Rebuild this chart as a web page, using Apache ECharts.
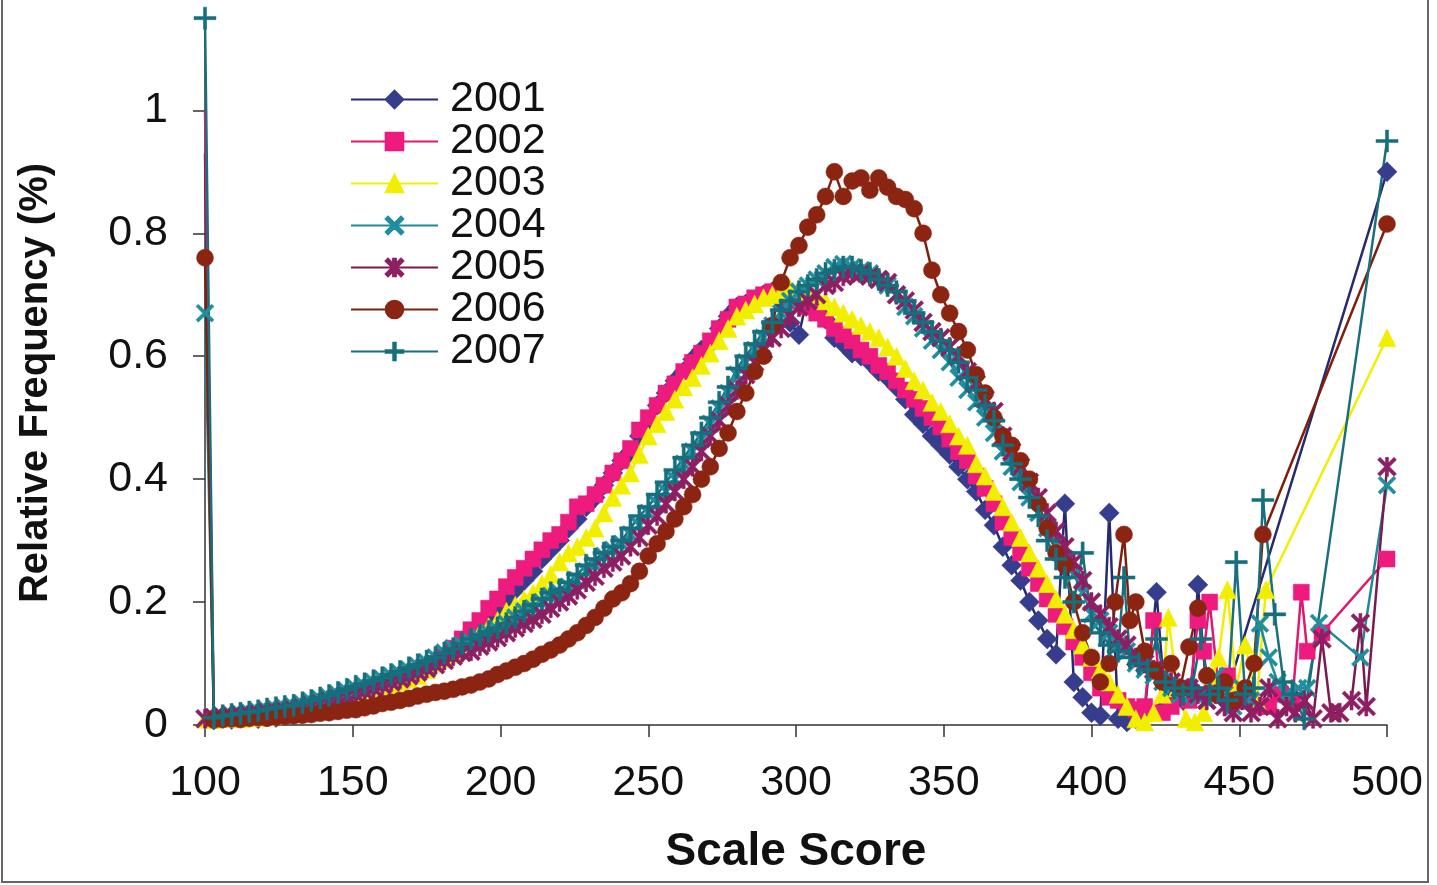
<!DOCTYPE html>
<html><head><meta charset="utf-8">
<script src="https://cdn.jsdelivr.net/npm/echarts@6/dist/echarts.min.js"></script>
<style>html,body{margin:0;padding:0;background:#fff}#c{width:1437px;height:885px}</style>
</head><body><div id="c"></div>
<script>
// Scale-score grid for the main body of every curve
const scores = [100,103,106,109,112,115,118,121,124,127,
130,133,136,139,142,145,148,151,154,157,
160,163,166,169,172,175,178,181,184,187,
190,193,196,199,202,205,208,211,214,217,
220,223,226,229,232,235,238,241,244,247,
250,253,256,259,262,265,268,271,274,277,
280,283,286,289,292,295,298,301,304,307,
310,313,316,319,322,325,328,331,334,337,
340,343,346,349,352,355,358,361,364,367,
370,373,376,379,382,385,388,391,394,397,
400];

const years = ['2001','2002','2003','2004','2005','2006','2007'];
const yTickValues = [0, 0.2, 0.4, 0.6, 0.8, 1];

const v2001 = [0.93,.008,.01,.009,.011,.012,.01,.013,.012,.016,
.02,.019,.024,.027,.03,.034,.038,.046,.05,.055,
.06,.066,.072,.076,.085,.092,.1,.11,.12,.135,
.15,.16,.175,.19,.205,.22,.235,.25,.27,.285,
.30,.32,.335,.355,.37,.39,.41,.43,.445,.47,
.49,.52,.54,.56,.575,.595,.61,.62,.645,.665,
.68,.685,.69,.70,.705,.69,.655,.635,.70,.68,
.66,.63,.62,.605,.60,.59,.575,.565,.55,.53,
.505,.49,.47,.455,.44,.42,.40,.38,.35,.325,
.29,.26,.235,.20,.17,.14,.115,.36,.07,.045,
.02];
const t2001 = [[403,.015],[406,.345],[409,.01],[412,.005],[415,.01],[418,.02],[422,.216],[425,.03],[428,.05],[431,.04],[434,.06],[436,.228],[439,.05],[442,.06],[445,.04],[500,.90]];

const v2002 = [1.0,.01,.011,.01,.012,.013,.012,.014,.015,.017,
.02,.022,.025,.028,.031,.035,.04,.047,.05,.056,
.06,.066,.072,.078,.086,.094,.10,.112,.125,.14,
.155,.17,.19,.205,.225,.24,.255,.27,.285,.30,
.31,.33,.355,.36,.375,.39,.41,.43,.45,.48,
.50,.52,.54,.555,.575,.59,.605,.625,.645,.66,
.68,.685,.695,.70,.705,.70,.695,.69,.68,.67,
.66,.645,.635,.625,.61,.60,.585,.575,.56,.545,
.53,.515,.50,.485,.465,.445,.43,.405,.385,.36,
.33,.305,.28,.255,.23,.205,.18,.16,.135,.11,
.085];
const t2002 = [[403,.06],[406,.045],[409,.04],[412,.03],[415,.025],[418,.03],[421,.17],[424,.02],[427,.03],[430,.06],[433,.04],[436,.17],[438,.12],[440,.20],[443,.06],[446,.08],[449,.05],[452,.04],[456,.03],[460,.03],[464,.05],[468,.04],[471,.216],[473,.12],[478,.15],[500,.27]];

const v2003 = [.01,.009,.011,.012,.01,.013,.012,.014,.016,.017,
.018,.02,.023,.027,.03,.035,.04,.045,.05,.054,
.06,.065,.07,.075,.08,.09,.10,.108,.115,.125,
.135,.15,.16,.17,.185,.195,.205,.215,.23,.245,
.265,.28,.29,.305,.32,.345,.37,.39,.41,.44,
.47,.49,.51,.53,.55,.565,.585,.605,.625,.645,
.665,.675,.685,.695,.70,.705,.71,.71,.705,.70,
.69,.68,.67,.66,.65,.64,.63,.615,.60,.58,
.56,.545,.525,.51,.49,.47,.455,.425,.405,.38,
.355,.33,.305,.28,.255,.23,.205,.18,.155,.13,
.11];
const t2003 = [[403,.09],[406,.07],[409,.05],[412,.03],[415,.01],[418,.005],[421,.02],[424,.05],[426,.175],[429,.06],[432,.01],[435,.005],[438,.02],[441,.08],[443,.11],[446,.22],[449,.06],[452,.13],[456,.04],[459,.22],[500,.63]];

const v2004 = [.67,.012,.014,.016,.018,.02,.022,.024,.026,.028,
.03,.034,.038,.042,.045,.05,.055,.06,.064,.07,
.075,.08,.084,.09,.096,.102,.11,.118,.125,.13,
.135,.142,.15,.155,.165,.175,.185,.19,.2,.21,
.215,.225,.235,.25,.26,.275,.285,.295,.31,.325,
.345,.36,.38,.40,.425,.445,.465,.49,.515,.54,
.57,.59,.61,.63,.65,.67,.69,.705,.715,.725,
.735,.745,.75,.745,.74,.735,.725,.715,.70,.68,
.665,.645,.625,.61,.59,.565,.545,.525,.50,.475,
.445,.42,.395,.37,.345,.32,.295,.27,.245,.215,
.18];
const t2004 = [[403,.17],[406,.15],[409,.13],[412,.12],[415,.10],[418,.09],[421,.08],[424,.07],[427,.06],[430,.05],[433,.06],[436,.045],[439,.04],[442,.08],[445,.05],[448,.03],[451,.06],[454,.04],[457,.165],[460,.11],[463,.07],[466,.05],[470,.06],[473,.06],[477,.166],[491,.11],[500,.39]];

const v2005 = [.01,.012,.013,.014,.015,.016,.018,.02,.021,.023,
.025,.028,.031,.035,.039,.043,.047,.05,.055,.06,
.065,.07,.075,.08,.086,.092,.098,.105,.112,.118,
.12,.128,.135,.142,.15,.158,.165,.172,.18,.19,
.20,.21,.22,.232,.242,.255,.265,.275,.29,.305,
.325,.34,.36,.38,.40,.42,.445,.47,.495,.52,
.545,.57,.59,.61,.63,.645,.665,.68,.69,.70,
.715,.72,.73,.735,.735,.73,.725,.72,.70,.69,
.675,.655,.64,.63,.615,.60,.575,.555,.53,.51,
.47,.445,.42,.395,.37,.345,.315,.29,.265,.235,
.20];
const t2005 = [[403,.18],[406,.16],[409,.14],[412,.13],[415,.11],[418,.10],[421,.09],[424,.08],[427,.07],[430,.06],[433,.06],[436,.05],[439,.04],[442,.05],[445,.03],[448,.02],[451,.04],[454,.02],[457,.03],[460,.06],[463,.01],[466,.03],[469,.02],[472,.04],[475,.01],[478,.14],[481,.02],[484,.02],[488,.04],[491,.166],[493,.03],[500,.42]];

const v2006 = [.76,.008,.009,.01,.009,.011,.012,.011,.013,.014,
.015,.016,.017,.019,.02,.022,.024,.025,.028,.031,
.035,.037,.04,.043,.047,.05,.053,.055,.058,.062,
.065,.07,.075,.082,.088,.094,.10,.107,.115,.122,
.13,.14,.15,.162,.175,.19,.205,.215,.23,.25,
.275,.295,.315,.335,.355,.375,.40,.42,.45,.475,
.51,.54,.575,.60,.65,.72,.76,.78,.81,.83,
.86,.90,.86,.885,.89,.87,.89,.875,.86,.855,
.84,.80,.74,.70,.67,.64,.61,.57,.54,.50,
.47,.455,.43,.40,.36,.32,.28,.26,.20,.15,
.11];
const t2006 = [[403,.07],[406,.10],[408,.20],[411,.31],[413,.17],[415,.20],[418,.12],[421,.09],[424,.07],[427,.10],[430,.06],[433,.127],[436,.19],[439,.08],[442,.05],[445,.07],[448,.04],[452,.06],[455,.10],[458,.31],[500,.815]];

const v2007 = [1.15,.012,.015,.017,.019,.021,.023,.026,.028,.03,
.032,.036,.04,.044,.048,.053,.058,.063,.067,.072,
.077,.082,.087,.093,.098,.104,.11,.117,.124,.132,
.14,.146,.152,.158,.165,.175,.185,.195,.205,.215,
.22,.232,.245,.26,.27,.28,.29,.30,.32,.34,
.355,.375,.395,.415,.435,.455,.475,.50,.525,.55,
.58,.60,.62,.64,.655,.675,.69,.705,.715,.725,
.735,.74,.745,.745,.74,.735,.725,.715,.705,.69,
.67,.655,.64,.625,.61,.59,.565,.545,.52,.495,
.455,.425,.40,.37,.34,.30,.27,.24,.20,.28,
.17];
const t2007 = [[403,.15],[406,.13],[409,.12],[411,.24],[413,.11],[416,.10],[419,.09],[422,.14],[425,.07],[428,.06],[431,.05],[434,.06],[437,.14],[440,.05],[443,.06],[446,.04],[449,.265],[452,.05],[455,.06],[458,.366],[462,.18],[465,.07],[468,.05],[472,.01],[500,.95]];

const mainVals = {'2001':v2001,'2002':v2002,'2003':v2003,'2004':v2004,'2005':v2005,'2006':v2006,'2007':v2007};
const tails = {'2001':t2001,'2002':t2002,'2003':t2003,'2004':t2004,'2005':t2005,'2006':t2006,'2007':t2007};

const X_SYM = 'path://M0,1.3L1.3,0L5,3.7L8.7,0L10,1.3L6.3,5L10,8.7L8.7,10L5,6.3L1.3,10L0,8.7L3.7,5Z';
const AST_SYM = 'path://M0,1.3L1.3,0L5,3.7L8.7,0L10,1.3L6.3,5L10,8.7L8.7,10L5,6.3L1.3,10L0,8.7L3.7,5Z M4.2,0L5.8,0L5.8,10L4.2,10Z';
const PLUS_SYM = 'path://M4.3,0L5.7,0L5.7,4.3L10,4.3L10,5.7L5.7,5.7L5.7,10L4.3,10L4.3,5.7L0,5.7L0,4.3L4.3,4.3Z';

const styles = {
  '2001': {color:'#363d8c', line:'#262a6e', symbol:'diamond', size:20},
  '2002': {color:'#ee1a7e', line:'#e0186f', symbol:'rect', size:16},
  '2003': {color:'#f2ee00', line:'#f2ee00', symbol:'triangle', size:18},
  '2004': {color:'#1f8fa0', line:'#1f8a9a', symbol:X_SYM, size:18},
  '2005': {color:'#8e1f62', line:'#7a1a50', symbol:AST_SYM, size:19},
  '2006': {color:'#8c2412', line:'#7e2010', symbol:'circle', size:17},
  '2007': {color:'#176f7d', line:'#1a6f7c', symbol:PLUS_SYM, size:22}
};
const hideSpikeMarker = {'2001':true, '2002':true};

function buildData(y){
  const pts = scores.map((s,i)=>[s, mainVals[y][i]]).concat(tails[y]);
  return pts.map((p,i)=> (hideSpikeMarker[y] && i===0) ? {value:p, symbol:'none'} : p);
}

const series = years.map(y => ({
  name: y, type:'line', data: buildData(y),
  symbol: styles[y].symbol, symbolSize: styles[y].size, showAllSymbol: true,
  lineStyle:{color:styles[y].line, width:2.5},
  itemStyle:{color:styles[y].color, borderColor:styles[y].color, borderWidth:0.5},
  emphasis:{disabled:true}, animation:false
}));

const chart = echarts.init(document.getElementById('c'), null, {renderer:'canvas'});
chart.setOption({
  backgroundColor:'#ffffff',
  animation:false,
  grid:{left:205, right:50, top:12, bottom:160, containLabel:false},
  xAxis:{type:'value', min:100, max:500, interval:50,
    axisLine:{show:true, lineStyle:{color:'#333', width:1.5}},
    axisTick:{show:true, inside:false, length:12, lineStyle:{color:'#333', width:1.5}},
    axisLabel:{fontSize:43, fontFamily:'Liberation Sans, Arial, sans-serif', color:'#111', margin:37},
    splitLine:{show:false}},
  yAxis:{type:'value', min:0, max:1.16,
    axisLine:{show:true, lineStyle:{color:'#333', width:1.5}},
    axisTick:{show:true, inside:false, length:12, lineStyle:{color:'#333', width:1.5}, customValues:yTickValues},
    axisLabel:{fontSize:43, fontFamily:'Liberation Sans, Arial, sans-serif', color:'#111', margin:37, customValues:yTickValues},
    splitLine:{show:false}},
  legend:{data:years, orient:'vertical', left:350, top:78, padding:0, itemWidth:87, itemHeight:22, itemGap:-1,
    textStyle:{fontSize:43, fontFamily:'Liberation Sans, Arial, sans-serif', color:'#111', lineHeight:41, padding:[0,0,0,7]}},
  graphic:[
    {type:'rect', z:-10, shape:{x:2, y:-4, width:1426, height:886}, style:{fill:'none', stroke:'#666', lineWidth:2}},
    {type:'text', x:796, y:852, style:{text:'Scale Score', font:'bold 46px "Liberation Sans", Arial, sans-serif', fill:'#111', align:'center', verticalAlign:'middle'}},
    {type:'text', x:36, y:383, rotation:Math.PI/2, style:{text:'Relative Frequency (%)', font:'bold 40px "Liberation Sans", Arial, sans-serif', fill:'#111', align:'center', verticalAlign:'middle'}}
  ],
  series: series
});
</script></body></html>
